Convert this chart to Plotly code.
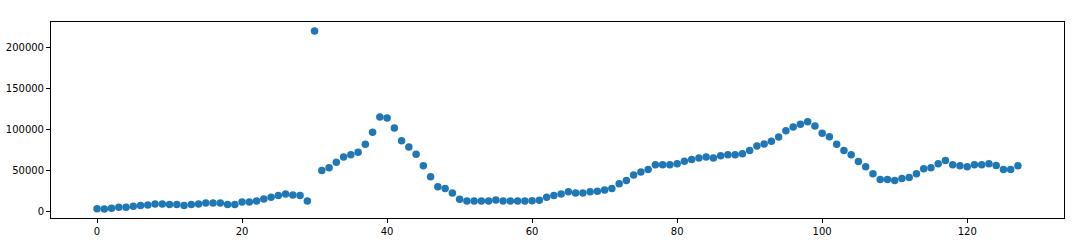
import plotly.graph_objects as go

x_index = list(range(128))
values = [
    3300, 3000, 4000, 5200, 5200, 6400, 7300, 8100, 9300, 9300,
    8500, 8500, 7300, 8500, 9300, 10500, 10500, 10500, 8500, 8500,
    11700, 11700, 12900, 15300, 17300, 19400, 21400, 20200, 19400, 12900,
    219800, 50000, 53200, 60100, 66500, 69000, 72200, 81900, 96400, 114900,
    113700, 101600, 86300, 78700, 69800, 55700, 42400, 30300, 28200, 22600,
    14900, 12900, 12900, 12900, 12900, 14100, 12900, 12900, 12900, 12900,
    13000, 13700, 17300, 19400, 21400, 24200, 22600, 22600, 24200, 24600,
    26200, 28200, 33900, 37900, 44400, 48000, 51200, 56900, 56900, 56900,
    58100, 61300, 63300, 65300, 66500, 65300, 67800, 69000, 69000, 70200,
    74200, 79900, 82300, 85500, 90800, 98400, 102900, 106100, 109300, 104100,
    95200, 91100, 81900, 74200, 69000, 60900, 54500, 46000, 39100, 39100,
    37900, 40300, 41500, 46000, 52000, 53200, 58100, 62100, 56900, 55700,
    54500, 56900, 56900, 58100, 56000, 51200, 51200, 55700,
]
x_ticks = [0, 20, 40, 60, 80, 100, 120]
y_ticks = [0, 50000, 100000, 150000, 200000]

xmin, xmax = min(x_index), max(x_index)
ymin, ymax = min(values), max(values)
xpad = 0.05 * (xmax - xmin)
ypad = 0.05 * (ymax - ymin)

fig = go.Figure(
    go.Scatter(
        x=x_index, y=values, mode="markers",
        marker=dict(color="#1f77b4", size=7.5, line=dict(width=0)),
    )
)

axis_common = dict(
    showline=True, linecolor="#000000", linewidth=1, mirror=True,
    ticks="outside", ticklen=4, tickwidth=1, tickcolor="#000000",
    showgrid=False, zeroline=False, automargin=False,
    tickfont=dict(family="DejaVu Sans", size=10, color="#000000"),
)

fig.update_layout(
    width=1076, height=244,
    margin=dict(l=51, r=12, t=22, b=26),
    paper_bgcolor="white", plot_bgcolor="white",
    showlegend=False,
    xaxis=dict(range=[xmin - xpad, xmax + xpad], tickvals=x_ticks, **axis_common),
    yaxis=dict(range=[ymin - ypad, ymax + ypad], tickvals=y_ticks, tickformat="d", **axis_common),
)

fig.write_html("out.html")
